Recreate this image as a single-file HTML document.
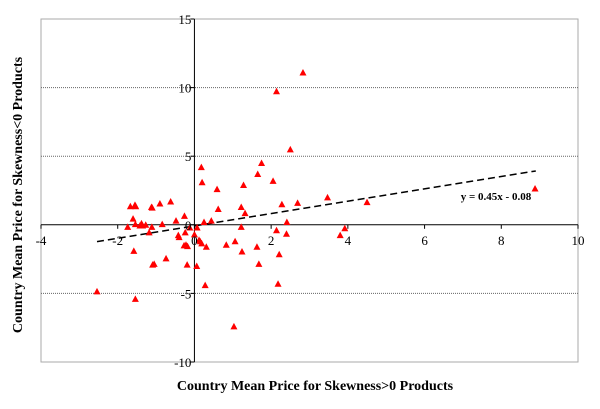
<!DOCTYPE html>
<html><head><meta charset="utf-8"><style>
body{margin:0;background:#fff;}
svg{display:block;font-family:"Liberation Serif",serif;}
</style></head><body>
<svg id="chart" width="600" height="409" viewBox="0 0 600 409">
<rect x="0" y="0" width="600" height="409" fill="#fff"/>
<rect x="41" y="19" width="537" height="343" fill="none" stroke="#aaa" stroke-width="1"/>
<g id="grid"></g><g id="axes"></g><g id="trend"></g><g id="points"></g><g id="labels"></g>
<text x="315" y="390" text-anchor="middle" font-size="14" font-weight="bold">Country Mean Price for Skewness&gt;0 Products</text>
<text transform="translate(22,195) rotate(-90)" text-anchor="middle" font-size="14" font-weight="bold">Country Mean Price for Skewness&lt;0 Products</text>
</svg>
<script>
const xTicks=[-4,-2,0,2,4,6,8,10];
const yTicks=[-10,-5,0,5,10,15];
const gridValues=[10,5,-5];
const xs=[2.83,2.14,2.5,1.75,1.65,2.05,0.18,0.2,1.28,0.59,3.47,4.5,2.69,2.28,8.88,1.22,0.62,1.32,2.41,0.44,0.25,1.22,2.14,3.92,3.8,2.4,1.06,0.83,1.63,1.24,2.21,1.68,2.18,0.28,1.03,0.06,-0.19,0.31,0.15,0.12,0.19,0,0.07,-0.12,-0.24,-0.26,-0.48,-0.22,-0.27,-0.4,-0.42,-0.18,-0.62,-0.9,-0.84,-1.12,-1.1,-1.11,-1.18,-0.74,-1.05,-1.09,-1.27,-1.35,-1.38,-1.42,-1.53,-1.55,-1.67,-1.6,-1.54,-1.74,-1.58,-1.54,-2.54];
const ys=[11.1,9.73,5.5,4.5,3.7,3.2,4.2,3.1,2.9,2.6,2.0,1.65,1.6,1.5,2.65,1.3,1.15,0.85,0.2,0.3,0.2,-0.15,-0.4,-0.25,-0.75,-0.65,-1.2,-1.45,-1.6,-1.95,-2.15,-2.85,-4.3,-4.4,-7.4,-3.0,-2.9,-1.6,-1.2,-1.1,-1.35,-0.7,-0.2,-0.2,-0.55,0.65,0.3,-1.45,-1.5,-0.9,-0.75,-1.55,1.7,1.55,0.05,1.3,1.25,-0.15,-0.55,-2.45,-2.85,-2.9,0,-0.05,0.1,-0.05,1.35,1.45,1.35,0.45,0.05,-0.15,-1.9,-5.4,-4.85];
const slope=0.45, intercept=-0.08;
const trendRange=[-2.54,8.9];

const NS="http://www.w3.org/2000/svg";
const X=v=>41+(v+4)*(537/14);
const Y=v=>362-(v+10)*(343/25);
function mk(tag,attrs,parent){const e=document.createElementNS(NS,tag);for(const k in attrs)e.setAttribute(k,attrs[k]);document.getElementById(parent).appendChild(e);return e;}

gridValues.forEach(v=>{
 const l=mk('line',{x1:41,x2:578,y1:Y(v),y2:Y(v),stroke:'#666','stroke-width':1,'stroke-dasharray':'1,1'},'grid');
 
 
});
const xa=mk('line',{x1:41,x2:578,y1:Y(0),y2:Y(0),stroke:'#000'},'axes');


const ya=mk('line',{x1:X(0),x2:X(0),y1:19,y2:362,stroke:'#000'},'axes');


xTicks.forEach(v=>{
 mk('line',{x1:X(v),x2:X(v),y1:Y(0),y2:Y(0)+4,stroke:'#000'},'axes');
 const t=mk('text',{x:X(v),y:Y(0)+20,'text-anchor':'middle','font-size':13},'labels');
 t.textContent=v;
 
 
});
yTicks.forEach(v=>{
 mk('line',{x1:X(0)-4,x2:X(0),y1:Y(v),y2:Y(v),stroke:'#000'},'axes');
 const t=mk('text',{x:X(0)-3,y:Y(v)+5,'text-anchor':'end','font-size':13},'labels');
 t.textContent=v;
 
 
});
const tl=mk('line',{x1:X(trendRange[0]),y1:Y(slope*trendRange[0]+intercept),x2:X(trendRange[1]),y2:Y(slope*trendRange[1]+intercept),stroke:'#000','stroke-width':1.5,'stroke-dasharray':'7,4'},'trend');


const eq=mk('text',{x:496,y:Y(2.1)+4,'text-anchor':'middle','font-size':11,'font-weight':'bold'},'labels');
eq.textContent='y = 0.45x - 0.08';


xs.forEach((v,i)=>{
 const cx=X(v),cy=Y(ys[i]);
 const p=mk('polygon',{points:`${cx},${cy-3.5} ${cx-3.5},${cy+3} ${cx+3.5},${cy+3}`,fill:'#f00'},'points');
 
 
});
</script>
</body></html>
